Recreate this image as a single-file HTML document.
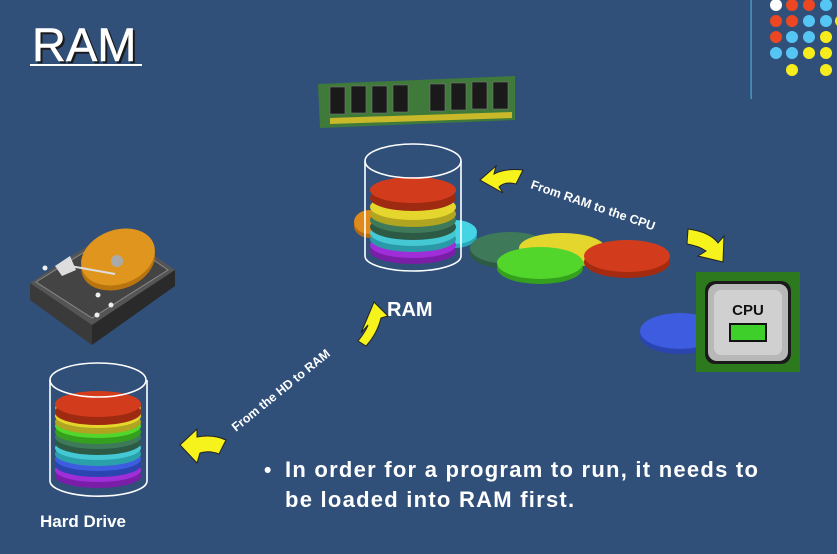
<!DOCTYPE html>
<html><head><meta charset="utf-8"><style>
html,body{margin:0;padding:0;background:#30507a;}
svg{display:block}
text{font-family:"Liberation Sans",sans-serif;}
</style></head><body>
<svg width="837" height="554" viewBox="0 0 837 554" xmlns="http://www.w3.org/2000/svg">
<rect width="837" height="554" fill="#30507a"/>
<text x="32" y="61" font-size="47" fill="#1a1a1a" transform="translate(2,2)" stroke="#1a1a1a" stroke-width="0.5">RAM</text>
<text x="32" y="61" font-size="47" fill="#ffffff" stroke="#ffffff" stroke-width="0.5">RAM</text>
<rect x="30" y="64" width="112" height="2" fill="#ffffff"/>
<rect x="750.5" y="0" width="1.2" height="99" fill="#4aa8d8"/>
<g>
<circle cx="776" cy="5" r="6" fill="#fff"/><circle cx="792" cy="5" r="6" fill="#ec4622"/><circle cx="809" cy="5" r="6" fill="#ec4622"/><circle cx="826" cy="5" r="6" fill="#55c6f4"/>
<circle cx="776" cy="21" r="6" fill="#ec4622"/><circle cx="792" cy="21" r="6" fill="#ec4622"/><circle cx="809" cy="21" r="6" fill="#55c6f4"/><circle cx="826" cy="21" r="6" fill="#55c6f4"/><circle cx="841" cy="21" r="6" fill="#f6ec1c"/>
<circle cx="776" cy="37" r="6" fill="#ec4622"/><circle cx="792" cy="37" r="6" fill="#55c6f4"/><circle cx="809" cy="37" r="6" fill="#55c6f4"/><circle cx="826" cy="37" r="6" fill="#f6ec1c"/>
<circle cx="776" cy="53" r="6" fill="#55c6f4"/><circle cx="792" cy="53" r="6" fill="#55c6f4"/><circle cx="809" cy="53" r="6" fill="#f6ec1c"/><circle cx="826" cy="53" r="6" fill="#f6ec1c"/>
<circle cx="792" cy="70" r="6" fill="#f6ec1c"/><circle cx="826" cy="70" r="6" fill="#f6ec1c"/>
</g>
<polygon points="318,84 515,76 515,120 320,128" fill="#3f7a3a"/>
<polygon points="330,118 512,112 512,118 330,124" fill="#c9b92a"/>
<g fill="#1a1a1a" stroke="#777" stroke-width="0.6">
<rect x="330" y="87" width="15" height="27"/><rect x="351" y="86" width="15" height="27"/><rect x="372" y="86" width="15" height="27"/><rect x="393" y="85" width="15" height="27"/>
<rect x="430" y="84" width="15" height="27"/><rect x="451" y="83" width="15" height="27"/><rect x="472" y="82" width="15" height="27"/><rect x="493" y="82" width="15" height="27"/>
</g>
<g>
<ellipse cx="370" cy="226" rx="16" ry="12" fill="#b36a14"/><ellipse cx="370" cy="222" rx="16" ry="12" fill="#e08a1c"/>
<ellipse cx="455" cy="236" rx="22" ry="12" fill="#2aa8b8"/><ellipse cx="455" cy="232" rx="22" ry="12" fill="#44d4e4"/>
<ellipse cx="510" cy="253" rx="40" ry="16" fill="#2d5a44"/><ellipse cx="510" cy="248" rx="40" ry="16" fill="#3e7a5a"/>
<ellipse cx="562" cy="253" rx="43" ry="15" fill="#b8ac20"/><ellipse cx="562" cy="248" rx="43" ry="15" fill="#e4d62c"/>
<ellipse cx="540" cy="268" rx="43" ry="16" fill="#34a01e"/><ellipse cx="540" cy="263" rx="43" ry="16" fill="#52d62c"/>
<ellipse cx="627" cy="262" rx="43" ry="16" fill="#a42a10"/><ellipse cx="627" cy="256" rx="43" ry="16" fill="#d23c1c"/>
<ellipse cx="680" cy="336" rx="40" ry="18" fill="#2a44b0"/><ellipse cx="680" cy="331" rx="40" ry="18" fill="#3e5ce0"/>
</g>
<g>
<ellipse cx="413" cy="251" rx="43" ry="13" fill="#7a1ea8"/><ellipse cx="413" cy="245" rx="43" ry="13" fill="#a02ed8"/>
<ellipse cx="413" cy="239" rx="43" ry="13" fill="#2a9aa8"/><ellipse cx="413" cy="233" rx="43" ry="13" fill="#44c8d4"/>
<ellipse cx="413" cy="227" rx="43" ry="13" fill="#2d5a44"/><ellipse cx="413" cy="220" rx="43" ry="13" fill="#3e7a5a"/>
<ellipse cx="413" cy="214" rx="43" ry="13" fill="#b0a420"/><ellipse cx="413" cy="207" rx="43" ry="13" fill="#e4d62c"/>
<ellipse cx="413" cy="198" rx="43" ry="13" fill="#9e2a12"/><ellipse cx="413" cy="190" rx="43" ry="13" fill="#d23c1c"/>
<path d="M365,161 L365,256 A48,15 0 0 0 461,256 L461,161" fill="none" stroke="#fff" stroke-width="1.6"/>
<ellipse cx="413" cy="161" rx="48" ry="17" fill="none" stroke="#fff" stroke-width="1.6"/>
</g>
<g>
<ellipse cx="98" cy="476" rx="43" ry="12" fill="#7a1ea8"/><ellipse cx="98" cy="470" rx="43" ry="12" fill="#a02ed8"/>
<ellipse cx="98" cy="465" rx="43" ry="12" fill="#2a44b0"/><ellipse cx="98" cy="459" rx="43" ry="12" fill="#3e5ce0"/>
<ellipse cx="98" cy="454" rx="43" ry="12" fill="#2aa0aa"/><ellipse cx="98" cy="448" rx="43" ry="12" fill="#44c8d4"/>
<ellipse cx="98" cy="443" rx="43" ry="12" fill="#2d5a44"/><ellipse cx="98" cy="437" rx="43" ry="12" fill="#3e7a5a"/>
<ellipse cx="98" cy="432" rx="43" ry="12" fill="#34a01e"/><ellipse cx="98" cy="426" rx="43" ry="12" fill="#52d62c"/>
<ellipse cx="98" cy="422" rx="43" ry="12" fill="#b0a420"/><ellipse cx="98" cy="416" rx="43" ry="12" fill="#e4d62c"/>
<ellipse cx="98" cy="413" rx="43" ry="12" fill="#b36a14"/><ellipse cx="98" cy="408" rx="43" ry="12" fill="#e08a1c"/>
<ellipse cx="98" cy="412" rx="43" ry="13" fill="#9e2a12"/><ellipse cx="98" cy="404" rx="43" ry="13" fill="#d23c1c"/>
<path d="M50,380 L50,481 A48,15 0 0 0 147,481 L147,380" fill="none" stroke="#fff" stroke-width="1.6"/>
<ellipse cx="98" cy="380" rx="48" ry="17" fill="none" stroke="#fff" stroke-width="1.6"/>
</g>
<g>
<polygon points="30,283 115,228 175,270 92,325" fill="#555"/>
<polygon points="30,283 92,325 92,345 30,300" fill="#3a3a3a"/>
<polygon points="92,325 175,270 175,286 92,345" fill="#2a2a2a"/>
<polygon points="36,282 115,233 168,270 92,318" fill="#444" stroke="#888" stroke-width="1"/>
<ellipse cx="118" cy="262" rx="38" ry="27" fill="#b8740e" transform="rotate(-20 118 262)"/>
<ellipse cx="118" cy="257" rx="38" ry="27" fill="#e0961e" transform="rotate(-20 118 257)"/>
<circle cx="117" cy="261" r="6" fill="#aaa"/>
<polygon points="55,266 70,256 76,270 62,276" fill="#ddd"/>
<line x1="70" y1="266" x2="115" y2="274" stroke="#ddd" stroke-width="2"/>
<circle cx="98" cy="295" r="2.5" fill="#eee"/><circle cx="111" cy="305" r="2.5" fill="#eee"/><circle cx="97" cy="315" r="2.5" fill="#eee"/><circle cx="45" cy="268" r="2.5" fill="#eee"/>
</g>
<g>
<rect x="696" y="272" width="104" height="100" fill="#2d7a1e"/>
<rect x="705" y="281" width="86" height="83" rx="10" fill="#1a1a1a"/>
<rect x="708" y="284" width="80" height="77" rx="9" fill="#b8b8b8"/>
<rect x="714" y="290" width="68" height="65" rx="7" fill="#d0d0d0"/>
<text x="748" y="315" font-size="15" font-weight="bold" fill="#111" text-anchor="middle">CPU</text>
<rect x="729" y="323" width="38" height="19" fill="#111"/>
<rect x="731" y="325" width="34" height="15" fill="#3fcf2a"/>
</g>
<g fill="#f6f21c" stroke="#222" stroke-width="1">
<path d="M480,180 L496,166 L494,174 Q506,168 523,170 L516,184 Q505,181 499,187 L503,193 Z"/>
<path d="M688,229 Q710,232 718,243 L724,236 L723,262 L698,256 L706,251 Q699,246 687,244 Z"/>
<path d="M361,333 L374,302 L388,316 L381,318 Q377,334 366,346 L358,341 Q366,331 368,325 Z"/>
<path d="M180,445 L197,429 L197,437 Q213,434 226,440 L219,454 Q209,450 200,453 L197,463 Z"/>
</g>
<text x="0" y="0" font-size="12.5" font-weight="bold" fill="#fff" transform="translate(530,188) rotate(19)">From RAM to the CPU</text>
<text x="0" y="0" font-size="12.5" font-weight="bold" fill="#fff" transform="translate(236,432) rotate(-39)">From the HD to RAM</text>
<text x="387" y="316" font-size="20" font-weight="bold" fill="#fff">RAM</text>
<text x="40" y="527" font-size="17" font-weight="bold" fill="#fff">Hard Drive</text>
<text x="264" y="477" font-size="21" font-weight="bold" fill="#fff">•</text>
<text x="285" y="477" font-size="22" font-weight="bold" fill="#fff" letter-spacing="1.25">In order for a program to run, it needs to</text>
<text x="285" y="507" font-size="22" font-weight="bold" fill="#fff" letter-spacing="1.25">be loaded into RAM first.</text>
</svg>
</body></html>
